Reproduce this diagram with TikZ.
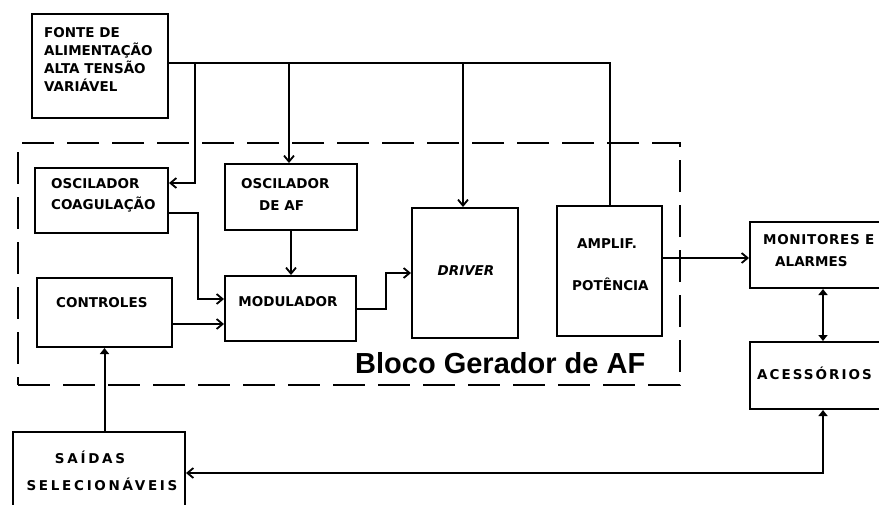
\documentclass[tikz,border=0pt]{standalone}
\usepackage{fontspec}
\setmainfont{DejaVu Sans}
\newfontfamily\blocofont{Liberation Sans}
\usetikzlibrary{arrows.meta}
\begin{document}
\begin{tikzpicture}[x=1pt,y=-1pt,
  box/.style={draw,line width=2pt,inner sep=0pt,rectangle},
  lbl/.style={font=\bfseries\fontsize{13.5}{18}\selectfont,inner sep=0pt,align=left},
  wire/.style={line width=2pt},
  arr/.style={wire,-{Straight Barb[length=6pt,width=10pt,line width=1.8pt]}},
  tri/.style={wire,-{Triangle[length=6pt,width=9pt]}},
  tritri/.style={wire,{Triangle[length=6pt,width=9pt]}-{Triangle[length=6pt,width=9pt]}},
  barbtri/.style={wire,{Straight Barb[length=6pt,width=10pt,line width=1.8pt]}-{Triangle[length=6pt,width=9pt]}}]
\useasboundingbox (0,0) rectangle (879,504);
\clip (0,0) rectangle (879,504);
% dashed block
\node[draw,line width=2pt,dash pattern=on 32pt off 13pt,inner sep=0pt,minimum width=662pt,minimum height=242pt] (bloco) at (349,264) {};
% boxes
\node[box,minimum width=136pt,minimum height=104pt] (fonte) at (100,66) {};
\node[box,minimum width=133pt,minimum height=65pt] (osccoag) at (101.5,200.5) {};
\node[box,minimum width=132pt,minimum height=66pt] (oscaf) at (291,197) {};
\node[box,minimum width=135pt,minimum height=69pt] (contr) at (104.5,312.5) {};
\node[box,minimum width=131pt,minimum height=65pt] (modul) at (290.5,308.5) {};
\node[box,minimum width=106pt,minimum height=130pt] (driver) at (465,273) {};
\node[box,minimum width=105pt,minimum height=130pt] (amp) at (609.5,271) {};
\node[box,minimum width=160pt,minimum height=66pt] (mon) at (830,255) {};
\node[box,minimum width=160pt,minimum height=67pt] (acc) at (830,375.5) {};
\node[box,minimum width=172pt,minimum height=98pt] (saidas) at (99,481) {};
% texts
\node[lbl,anchor=west] (tfonte) at (44,59.5) {FONTE DE\\ALIMENTAÇÃO\\ALTA TENSÃO\\VARIÁVEL};
\node[lbl,anchor=west,font=\bfseries\fontsize{13.5}{21}\selectfont] (tosccoag) at (51,195) {OSCILADOR\\COAGULAÇÃO};
\node[lbl,anchor=west,font=\bfseries\fontsize{13.5}{22}\selectfont] (toscaf) at (241,194) {OSCILADOR\\\hspace*{18pt}DE AF};
\node[lbl,anchor=west] (tcontr) at (56,303) {CONTROLES};
\node[lbl] (tmodul) at (288,302) {MODULADOR};
\node[lbl,font=\bfseries\itshape\fontsize{13.5}{16}\selectfont] (tdriver) at (466,271) {DRIVER};
\node[lbl,anchor=west] (tamp1) at (577,244) {AMPLIF.};
\node[lbl,anchor=west] (tamp2) at (572,284) {POTÊNCIA};
\node[lbl,anchor=west,font=\bfseries\fontsize{13.5}{18}\selectfont\addfontfeature{LetterSpace=5}] (tmon1) at (763,240) {MONITORES E};
\node[lbl,anchor=west] (tmon2) at (775,262) {ALARMES};
\node[lbl,anchor=west,font=\bfseries\fontsize{13.5}{18}\selectfont\addfontfeature{LetterSpace=15}] (tacc) at (757,373) {ACESSÓRIOS};
\node[lbl,font=\bfseries\fontsize{13.5}{18}\selectfont\addfontfeature{LetterSpace=20}] (tsai1) at (90,457) {SAÍDAS};
\node[lbl,font=\bfseries\fontsize{13.5}{18}\selectfont\addfontfeature{LetterSpace=20}] (tsai2) at (102,484) {SELECIONÁVEIS};
\node[inner sep=0pt,anchor=base west,font=\blocofont\bfseries\fontsize{29}{32}\selectfont] (tbloco) at (355,373) {Bloco Gerador de AF};
% bus coordinates
\coordinate (busR) at (609.5,63);
\coordinate (b1) at (195,63);
\coordinate (b2) at (289,63);
\coordinate (b3) at (463,63);
\coordinate (jx) at (198,0);
\coordinate (dx) at (386,0);
\coordinate (xr) at (823,0);
% connectors
\draw[wire] (fonte.east |- busR) -- (busR) -- (amp.north);
\draw[arr] (b1) |- ([yshift=17.5pt]osccoag.east);
\draw[arr] (b2) -- (b2 |- oscaf.north);
\draw[arr] (b3) -- (b3 |- driver.north);
\draw[arr] ([yshift=-12.5pt]osccoag.east) -| ([yshift=9.5pt]modul.west -| jx) -- ([yshift=9.5pt]modul.west);
\draw[arr] ([yshift=-11.5pt]contr.east) -- ([yshift=-11.5pt]contr.east -| modul.west);
\draw[arr] (oscaf.south) -- (oscaf.south |- modul.north);
\draw[arr] ([yshift=-0.5pt]modul.east) -| (driver.west -| dx) -- (driver.west);
\draw[arr] ([yshift=13pt]amp.east) -- ([yshift=13pt]amp.east -| mon.west);
\draw[tritri] (acc.north -| xr) -- (mon.south -| xr);
\draw[tri] (contr.south |- saidas.north) -- (contr.south);
\draw[barbtri] ([yshift=8pt]saidas.east) -| (acc.south -| xr);
\end{tikzpicture}
\end{document}
